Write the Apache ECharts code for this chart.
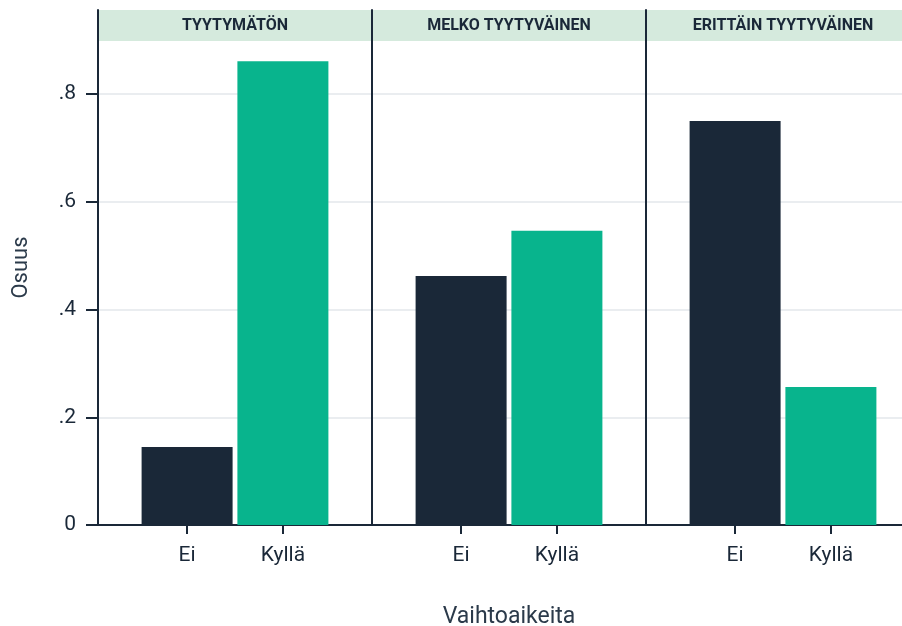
<!DOCTYPE html>
<html>
<head>
<meta charset="utf-8">
<script src="https://cdn.jsdelivr.net/npm/echarts@6/dist/echarts.min.js"></script>
<style>html,body{margin:0;padding:0;background:#fff}#c{width:902px;height:626px}</style>
</head>
<body>
<div id="c"></div>
<script>
// ---- data ----
const panels = ['TYYTYMÄTÖN', 'MELKO TYYTYVÄINEN', 'ERITTÄIN TYYTYVÄINEN'];
const categories = ['Ei', 'Kyllä'];
const eiValues = [0.145, 0.462, 0.750];
const kyllaValues = [0.861, 0.546, 0.256];
const yTicks = [0, 0.2, 0.4, 0.6, 0.8];
const yTickLabels = ['0', '.2', '.4', '.6', '.8'];
const yTitle = 'Osuus';
const xTitle = 'Vaihtoaikeita';

// ---- style ----
const DARK = '#1a2838';
const GREEN = '#08b48d';
const GRIDC = '#e3e7eb';
const STRIP = '#d5eadd';
const FONT = 'Roboto, "DejaVu Sans", sans-serif';

const PLEFT = 98, PW = 274, PTOP = 10, PH = 515;
const YMAX = 0.956;

const chart = echarts.init(document.getElementById('c'));
const grids = [], xAxes = [], yAxes = [], series = [], graphics = [];

panels.forEach((p, i) => {
  const left = PLEFT + i * PW;
  grids.push({left: left, top: PTOP, width: PW, height: PH, containLabel: false, outerBoundsMode: 'none'});
  xAxes.push({
    type: 'value', gridIndex: i, min: -0.93, max: 1.93,
    splitLine: {show: false},
    axisLine: {show: true, onZero: false, lineStyle: {color: DARK, width: 2}},
    axisTick: {show: true, customValues: [0, 1], length: 9, lineStyle: {color: DARK, width: 2}},
    axisLabel: {show: true, customValues: [0, 1], margin: 20, fontSize: 21, color: DARK, fontFamily: FONT,
      formatter: v => categories[Math.round(v)] || ''},
    name: i === 1 ? xTitle : '', nameLocation: 'middle', nameGap: 81,
    nameTextStyle: {fontSize: 23, color: '#2b3a4a', fontFamily: FONT}
  });
  yAxes.push({
    type: 'value', gridIndex: i, min: 0, max: YMAX, interval: 0.2,
    axisLine: {show: true, onZero: false, lineStyle: {color: DARK, width: 2}},
    axisTick: {show: i === 0, length: 12, lineStyle: {color: DARK, width: 2}},
    axisLabel: {show: i === 0, margin: 22, fontSize: 21, color: DARK, fontFamily: FONT, showMaxLabel: false,
      formatter: v => { const k = yTicks.findIndex(t => Math.abs(t - v) < 1e-6); return k >= 0 ? yTickLabels[k] : ''; }},
    splitLine: {show: true, showMaxLine: false, lineStyle: {color: GRIDC, width: 1.5}},
    name: i === 0 ? yTitle : '', nameLocation: 'middle', nameGap: 66, nameRotate: 90,
    nameTextStyle: {fontSize: 22, color: '#2b3a4a', fontFamily: FONT}
  });
  series.push({
    type: 'bar', xAxisIndex: i, yAxisIndex: i, barWidth: 91, barGap: '0%',
    data: [
      {value: [0, eiValues[i]], itemStyle: {color: DARK}},
      {value: [1, kyllaValues[i]], itemStyle: {color: GREEN}}
    ],
    silent: true, animation: false
  });
  graphics.push({
    type: 'rect', left: left, top: PTOP, z: -1,
    shape: {width: PW, height: 31}, style: {fill: STRIP}
  });
  graphics.push({
    type: 'text', x: left + PW / 2, y: PTOP + 16, z: 101,
    style: {text: p, fill: DARK, font: 'bold 16px ' + FONT, textAlign: 'center', textVerticalAlign: 'middle'}
  });
});

chart.setOption({
  animation: false,
  grid: grids, xAxis: xAxes, yAxis: yAxes, series: series, graphic: graphics
});
</script>
</body>
</html>
